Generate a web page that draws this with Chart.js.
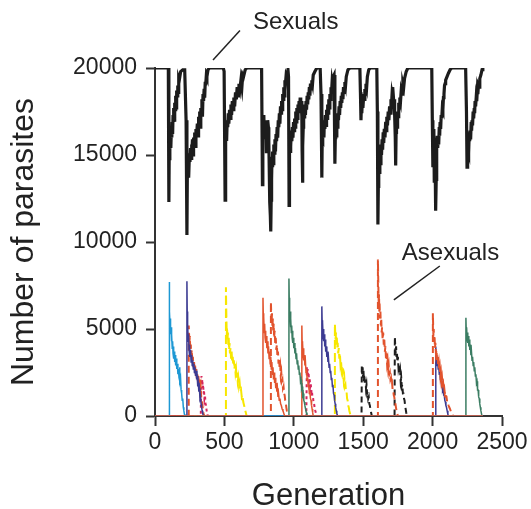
<!DOCTYPE html>
<html lang="en">
<head>
    <meta charset="UTF-8">
    <title>Sexual vs asexual parasites</title>
    <script src="https://cdn.jsdelivr.net/npm/chart.js"></script>
    <style>
        body {
            margin: 0;
            background-color: #ffffff;
        }
        canvas {
            display: block;
        }
    </style>
</head>
<body>
    <canvas id="chart" width="531" height="509"></canvas>

    <script>
        // tick values on each axis
        const xTicks = [0, 500, 1000, 1500, 2000, 2500];
        const yTicks = [0, 5000, 10000, 15000, 20000];

        // sexual population, [generation, count]
        const sexuals = [
            [0,20000],[96,20000],[100,12300],[103,15800],[106,14700],[108,16200],[110,15600],[113,16300],[115,15400],[118,16500],
            [121,16000],[124,16900],[127,16200],[130,17300],[133,16900],[136,17700],[139,17000],[142,18000],[146,17600],
            [149,18400],[152,17700],[156,18700],[160,18400],[164,19000],[167,18600],[171,19400],[175,19300],[185,19800],
            [200,19900],[214,19900],[224,17000],[230,10400],[233,13900],[236,14700],[238,14200],[241,15000],[244,13700],
            [248,15100],[252,14600],[256,15400],[260,14800],[263,15600],[266,15100],[270,15900],[274,15000],[278,16000],
            [282,15600],[286,16300],[290,15500],[295,16500],[300,16100],[305,16800],[310,16100],[314,17200],[318,16700],
            [322,17500],[326,16600],[330,17700],[334,17300],[338,18200],[342,17200],[346,18500],[350,18100],[354,18800],
            [358,18300],[362,19200],[365,19000],[370,19600],[374,19500],[382,19900],[392,20000],[492,20000],[498,19800],
            [505,12400],[508,16600],[510,16000],[513,16900],[516,15800],[520,17000],[524,16600],[528,17400],[532,16800],
            [537,17600],[542,17100],[547,17900],[552,17300],[557,18100],[562,17600],[568,18300],[574,17800],[580,18600],
            [586,18200],[592,18900],[598,18400],[605,19100],[612,18800],[619,19300],[626,18900],[632,19600],[638,19500],
            [650,19900],[662,20000],[768,20000],[774,13300],[777,17100],[780,16400],[784,17300],[788,16000],[791,17000],
            [795,16300],[799,16900],[803,15100],[807,16500],[810,15800],[814,17000],[817,16600],[820,15800],[822,14800],
            [825,13500],[828,12300],[831,11500],[834,10600],[837,12400],[840,13600],[843,14900],[846,14300],[849,15200],
            [852,14500],[856,15600],[860,15100],[864,15900],[868,15200],[872,16200],[876,15800],[880,16600],[884,16000],
            [888,17000],[892,16600],[896,17400],[900,16800],[904,17800],[908,17400],[912,18100],[916,17600],[920,18500],
            [924,18200],[928,18900],[932,18400],[936,19300],[940,19100],[945,19600],[950,19500],[958,19900],[962,19500],
            [966,12100],[968,15200],[970,15900],[973,15200],[976,16100],[979,15500],[982,16400],[986,15800],[990,16600],
            [994,16000],[998,16900],[1002,16400],[1006,17100],[1010,16600],[1014,17500],[1018,16900],[1022,17700],
            [1026,17100],[1030,17900],[1034,17400],[1038,18100],[1042,17500],[1046,18300],[1050,17800],[1054,18100],
            [1058,17200],[1060,15200],[1062,14200],[1064,13400],[1066,15500],[1068,16600],[1071,17200],[1074,17700],
            [1077,17100],[1080,17900],[1084,17300],[1088,18100],[1092,17600],[1096,18400],[1100,17900],[1104,18600],
            [1108,18200],[1112,18900],[1116,18400],[1120,19100],[1125,18800],[1130,19300],[1135,19100],[1140,19600],
            [1152,19800],[1166,20000],[1190,20000],[1196,18500],[1202,13700],[1205,16200],[1207,16900],[1210,16100],
            [1214,16700],[1217,16000],[1220,17000],[1224,16500],[1228,17300],[1232,16700],[1236,17600],[1240,17100],
            [1244,17900],[1248,17400],[1252,18200],[1256,17700],[1260,18500],[1264,18200],[1268,18900],[1272,18600],
            [1276,19200],[1280,19000],[1284,19500],[1290,19600],[1296,14500],[1299,16000],[1302,16600],[1306,16100],
            [1310,17100],[1314,16600],[1318,17400],[1322,17000],[1326,17800],[1330,17300],[1334,18100],[1338,17700],
            [1342,18400],[1346,18000],[1350,18600],[1354,18200],[1358,18900],[1363,18600],[1368,19200],[1373,19000],
            [1378,19500],[1390,19900],[1404,20000],[1476,20000],[1480,18600],[1484,17000],[1487,17900],[1490,17400],
            [1494,18200],[1498,17700],[1504,18500],[1508,18200],[1512,18800],[1516,18500],[1520,19100],[1525,18900],
            [1530,19500],[1540,19900],[1552,20000],[1598,20000],[1602,17500],[1606,11000],[1609,13200],[1612,14500],
            [1616,14000],[1620,15000],[1624,14500],[1628,15600],[1632,15000],[1636,15900],[1640,15300],[1644,16300],
            [1648,15700],[1652,16500],[1657,16000],[1662,16900],[1666,16400],[1670,17200],[1675,16700],[1680,17500],
            [1685,17000],[1690,17800],[1695,17400],[1700,18200],[1704,17900],[1708,18500],[1711,18300],[1714,18900],
            [1718,18300],[1722,17800],[1725,18200],[1728,17300],[1731,16000],[1734,14400],[1737,16300],[1740,16900],
            [1744,16600],[1748,17500],[1752,17200],[1756,18000],[1760,17700],[1764,18300],[1769,18100],[1774,18700],
            [1780,18500],[1786,19100],[1792,18900],[1798,19400],[1810,19800],[1822,20000],[1994,20000],[1998,17000],
            [2002,14300],[2005,16400],[2008,15600],[2010,16500],[2012,13500],[2014,15200],[2016,15900],[2018,14800],
            [2020,14000],[2022,13000],[2024,11800],[2026,13600],[2028,14800],[2031,15600],[2034,16100],[2037,15400],
            [2040,16000],[2044,15600],[2048,16600],[2051,16100],[2054,16900],[2058,16500],[2062,17300],[2066,17100],
            [2070,17700],[2074,17600],[2078,18300],[2082,18500],[2086,19000],[2090,19100],[2094,19300],[2104,19500],
            [2114,19700],[2126,19900],[2138,20000],[2238,20000],[2244,17500],[2248,14300],[2251,15400],[2254,15900],
            [2256,15200],[2258,15700],[2261,15100],[2264,16300],[2267,15800],[2270,16400],[2274,15900],[2278,16900],
            [2281,16400],[2284,17000],[2288,16700],[2292,17500],[2296,17100],[2300,17700],[2303,17400],[2306,18100],
            [2310,17800],[2314,18300],[2318,18100],[2322,18700],[2326,18500],[2330,19000],[2335,18900],[2340,19400],
            [2348,19600],[2356,19900],[2362,20000]
        ];

        // asexual clones, [generation, count]; each one is tracked over the whole run
        const clone778 = [[0,0],[778,0],[778,6800],[780,5900],[782,5200],[784,5700],[787,4800],[790,5300],[793,4500],
            [796,4900],[799,4200],[802,4600],[806,3900],[810,4300],[814,3600],[818,4000],[822,3300],[826,3700],[830,3000],
            [834,3400],[838,2700],[842,3100],[846,2400],[850,2800],[854,2100],[858,2500],[862,1900],[866,2200],[870,1600],
            [874,1900],[878,1400],[882,1600],[886,1100],[890,1300],[895,900],[900,1000],[905,700],[910,600],[916,400],
            [922,300],[928,150],[934,0],[2362,0]];
        const clone101 = [[0,0],[101,0],[101,7700],[103,6200],[105,5300],[107,6000],[109,5100],[111,5600],[113,4700],
            [116,5100],[118,4300],[121,4700],[124,3900],[127,4300],[130,3600],[133,4000],[136,3300],[139,3700],[142,3100],
            [145,3500],[149,2900],[153,3300],[157,2700],[161,3000],[165,2400],[169,2700],[173,2200],[177,2800],[180,2000],
            [184,2200],[188,1500],[192,1300],[196,900],[200,1000],[204,500],[208,300],[212,100],[216,0],[2362,0]];
        const clone230 = [[0,0],[230,0],[230,7750],[232,6000],[234,4800],[236,5300],[239,4300],[242,4700],[245,3800],
            [248,4100],[252,3400],[256,3800],[260,3100],[264,3500],[268,2900],[272,3200],[276,2700],[280,3000],[284,2500],
            [288,2800],[292,2300],[296,2600],[300,2100],[304,2300],[308,1700],[312,1900],[316,1400],[320,1600],[324,1000],
            [328,1100],[332,700],[336,500],[340,300],[344,150],[348,0],[2362,0]];
        const clone243 = [[0,0],[243,0],[243,5200],[245,4800],[248,4200],[251,4600],[254,3800],[258,4100],[261,3500],
            [265,3800],[269,3100],[273,3400],[277,2800],[281,3200],[285,2600],[289,2900],[293,2400],[297,2700],[301,2200],
            [305,2500],[309,2000],[313,2300],[317,1800],[321,2100],[325,1500],[329,1700],[333,1100],[337,900],[341,600],
            [345,400],[350,150],[355,0],[2362,0]];
        const clone332 = [[0,0],[330,0],[332,1900],[335,2300],[338,1800],[341,2100],[344,1600],[347,1800],[350,1300],
            [353,1500],[356,1000],[360,1200],[364,700],[368,600],[372,300],[376,200],[380,0],[2362,0]];
        const clone511 = [[0,0],[511,0],[511,7400],[513,6300],[515,5400],[517,4600],[519,5100],[522,4300],[525,4800],
            [528,4100],[531,4500],[534,3800],[537,4200],[540,3600],[544,3900],[548,3300],[552,3700],[556,3100],[560,3400],
            [564,2900],[568,3200],[572,2700],[576,3000],[580,2500],[584,2700],[588,2200],[592,2500],[596,2000],[600,2200],
            [605,1700],[610,1900],[615,1400],[620,1500],[625,1100],[630,1200],[636,800],[642,600],[648,400],[654,200],
            [660,0],[2362,0]];
        const clone835 = [[0,0],[835,0],[835,6550],[837,6000],[840,5400],[843,5900],[846,5100],[849,5600],[852,4800],
            [855,5300],[858,4500],[862,4900],[866,4200],[870,4500],[874,3800],[878,4100],[882,3400],[886,3700],[890,3000],
            [894,3300],[898,2700],[902,2900],[906,2300],[910,2500],[914,2000],[918,2100],[922,1600],[926,1700],[930,1300],
            [934,1200],[938,900],[942,800],[946,500],[950,300],[955,100],[960,0],[2362,0]];
        const clone965 = [[0,0],[965,0],[965,7900],[967,6800],[969,6000],[971,5400],[973,6000],[976,5100],[979,5600],
            [982,4800],[985,5200],[988,4500],[991,4900],[994,4200],[997,4500],[1000,3900],[1004,4200],[1008,3600],
            [1012,3900],[1016,3300],[1020,3600],[1024,3000],[1028,3200],[1032,2700],[1036,2900],[1040,2400],[1044,2500],
            [1048,2000],[1052,2100],[1056,1600],[1060,1700],[1064,1200],[1068,1300],[1072,900],[1076,800],[1080,600],
            [1085,400],[1090,200],[1095,50],[1098,0],[2362,0]];
        const clone1058 = [[0,0],[1058,0],[1058,5200],[1060,4300],[1062,3800],[1064,4200],[1067,3500],[1070,3900],
            [1073,3200],[1076,3500],[1080,2900],[1084,3100],[1088,2500],[1092,2700],[1096,2100],[1100,2200],[1104,1700],
            [1108,1800],[1112,1300],[1116,1400],[1120,1000],[1124,900],[1128,600],[1132,400],[1136,200],[1140,0],[2362,0]];
        const clone1094 = [[0,0],[1090,0],[1094,2800],[1097,2400],[1100,2700],[1103,2200],[1106,2500],[1110,2000],
            [1114,2200],[1118,1700],[1122,1900],[1126,1400],[1130,1500],[1134,1100],[1138,1100],[1142,800],[1146,700],
            [1150,500],[1155,300],[1160,150],[1166,0],[2362,0]];
        const clone1202 = [[0,0],[1202,0],[1202,6300],[1204,5500],[1206,4900],[1208,5400],[1211,4600],[1214,5000],
            [1217,4300],[1220,4700],[1223,4000],[1226,4400],[1230,3700],[1234,4000],[1238,3400],[1242,3700],[1246,3100],
            [1250,3300],[1254,2800],[1258,3000],[1262,2500],[1266,2600],[1270,2100],[1274,2200],[1278,1700],[1282,1800],
            [1286,1300],[1290,1200],[1294,900],[1298,700],[1302,500],[1306,300],[1310,150],[1316,0],[2362,0]];
        const clone1296 = [[0,0],[1296,0],[1296,5300],[1298,4900],[1301,4400],[1304,4800],[1307,4100],[1310,4500],
            [1313,3900],[1316,4200],[1320,3600],[1324,3900],[1328,3300],[1332,3600],[1336,3000],[1340,3200],[1344,2700],
            [1348,2900],[1352,2400],[1356,2500],[1360,2000],[1364,2200],[1368,1700],[1372,1800],[1376,1400],[1380,1400],
            [1384,1000],[1388,900],[1392,600],[1396,500],[1400,300],[1405,150],[1410,0],[2362,0]];
        const clone1490 = [[0,0],[1488,0],[1490,2900],[1493,2400],[1496,2800],[1499,2200],[1502,2600],[1505,2000],
            [1508,2400],[1512,1800],[1516,2100],[1520,1600],[1524,1800],[1528,1300],[1532,1400],[1536,1000],[1540,1100],
            [1544,700],[1548,600],[1552,400],[1557,200],[1562,0],[2362,0]];
        const clone1606 = [[0,0],[1606,0],[1606,9000],[1608,8000],[1610,7100],[1612,6400],[1614,7000],[1616,6000],
            [1618,6500],[1621,5600],[1624,6000],[1627,5200],[1630,5600],[1633,4800],[1636,5100],[1640,4400],[1644,4800],
            [1648,4100],[1652,4400],[1656,3700],[1660,4000],[1664,3300],[1668,3600],[1672,3000],[1676,3200],[1680,2700],
            [1684,2900],[1688,2400],[1692,2500],[1696,2100],[1700,2200],[1704,1800],[1708,1900],[1712,1500],[1716,1500],
            [1720,1200],[1724,1100],[1728,800],[1732,700],[1736,500],[1740,300],[1745,150],[1750,0],[2362,0]];
        const clone1728 = [[0,0],[1726,0],[1728,4550],[1731,4000],[1734,3600],[1737,4000],[1740,3400],[1743,3700],
            [1746,3100],[1750,3400],[1754,2800],[1758,3000],[1762,2400],[1766,2600],[1770,2000],[1774,2200],[1778,1700],
            [1782,1800],[1786,1300],[1790,1300],[1794,1000],[1798,900],[1802,600],[1806,400],[1810,200],[1816,0],[2362,0]];
        const clone2002 = [[0,0],[2002,0],[2002,5900],[2004,5200],[2006,4600],[2008,5000],[2011,4300],[2014,4600],
            [2017,3900],[2020,4200],[2024,3600],[2028,3800],[2032,3200],[2036,3400],[2040,2900],[2044,3100],[2048,2600],
            [2052,2800],[2056,2300],[2060,2500],[2064,2000],[2068,2200],[2072,1800],[2076,1900],[2080,1500],[2084,1600],
            [2088,1300],[2092,1400],[2096,1100],[2100,1100],[2105,800],[2110,800],[2115,600],[2120,500],[2126,400],
            [2132,250],[2140,100],[2148,0],[2362,0]];
        const clone2023 = [[0,0],[2023,0],[2023,4000],[2025,3500],[2028,3100],[2031,3500],[2034,2900],[2037,3200],
            [2040,2700],[2044,2900],[2048,2400],[2052,2600],[2056,2100],[2060,2300],[2064,1800],[2068,1900],[2072,1500],
            [2076,1600],[2080,1200],[2084,1200],[2088,900],[2092,800],[2096,600],[2100,500],[2105,300],[2110,100],
            [2114,0],[2362,0]];
        const clone2240 = [[0,0],[2240,0],[2240,5650],[2242,5000],[2244,4600],[2246,5100],[2249,4400],[2252,4800],
            [2255,4200],[2258,4600],[2261,4000],[2264,4400],[2268,3800],[2272,4100],[2276,3500],[2280,3700],[2284,3200],
            [2288,3400],[2292,2900],[2296,3100],[2300,2600],[2304,2800],[2308,2300],[2312,2400],[2316,1900],[2320,2000],
            [2324,1500],[2328,1500],[2332,1100],[2336,1000],[2340,700],[2344,500],[2348,300],[2353,100],[2358,0],[2362,0]];

        const RED = '#e2532d', NAVY = '#3c3b92', CYAN = '#1d98d4', GREEN = '#3b7d63',
              PINK = '#d6265c', YELLOW = '#f7e700', BLACK = '#1e1e1e';

        // first entry ends up drawn on top, so the solid red one owns the baseline
        const clones = [
            { data: clone778,  color: RED },
            { data: clone101,  color: CYAN },
            { data: clone230,  color: NAVY },
            { data: clone243,  color: RED,    dash: [7, 4] },
            { data: clone332,  color: PINK,   dash: [3, 3] },
            { data: clone511,  color: YELLOW, dash: [9, 4] },
            { data: clone835,  color: RED,    dash: [7, 4] },
            { data: clone965,  color: GREEN },
            { data: clone1058, color: RED },
            { data: clone1094, color: PINK,   dash: [3, 3] },
            { data: clone1202, color: NAVY },
            { data: clone1296, color: YELLOW, dash: [9, 4] },
            { data: clone1490, color: BLACK,  dash: [6, 4] },
            { data: clone1606, color: RED,    dash: [7, 4] },
            { data: clone1728, color: BLACK,  dash: [6, 4] },
            { data: clone2002, color: RED,    dash: [7, 4] },
            { data: clone2023, color: NAVY },
            { data: clone2240, color: GREEN }
        ];

        // callout labels with their pointer lines, in data units
        const callouts = [
            { text: 'Sexuals',  at: [706, 22650],  from: [612, 22150],  to: [418, 20460] },
            { text: 'Asexuals', at: [1778, 9370],  from: [2052, 8620],  to: [1721, 6670] }
        ];

        const toXY = pairs => pairs.map(p => ({ x: p[0], y: p[1] }));

        const datasets = [{
            label: 'Sexuals',
            data: toXY(sexuals),
            borderColor: '#1c1c1c',
            borderWidth: 3.2,
            pointRadius: 0,
            tension: 0
        }];
        clones.forEach((c, i) => {
            datasets.push({
                label: 'Asexual ' + (i + 1),
                data: toXY(c.data),
                borderColor: c.color,
                borderWidth: c.dash ? 2 : 1.5,
                borderDash: c.dash || [],
                pointRadius: 0,
                tension: 0
            });
        });

        const calloutPlugin = {
            id: 'callouts',
            afterDraw(chart) {
                const { ctx, scales: { x, y } } = chart;
                ctx.save();
                ctx.fillStyle = '#222';
                ctx.strokeStyle = '#222';
                ctx.lineWidth = 1.5;
                ctx.font = '24px "Liberation Sans", Arial, sans-serif';
                ctx.textAlign = 'left';
                ctx.textBaseline = 'middle';
                callouts.forEach(c => {
                    ctx.fillText(c.text, x.getPixelForValue(c.at[0]), y.getPixelForValue(c.at[1]));
                    ctx.beginPath();
                    ctx.moveTo(x.getPixelForValue(c.from[0]), y.getPixelForValue(c.from[1]));
                    ctx.lineTo(x.getPixelForValue(c.to[0]), y.getPixelForValue(c.to[1]));
                    ctx.stroke();
                });
                ctx.restore();
            }
        };

        const FONT = '"Liberation Sans", Arial, Helvetica, sans-serif';
        const AXIS = '#333333';

        new Chart(document.getElementById('chart').getContext('2d'), {
            type: 'line',
            data: { datasets },
            plugins: [calloutPlugin],
            options: {
                responsive: false,
                animation: false,
                layout: { padding: { left: 0, top: 68, right: 29, bottom: 0 } },
                plugins: {
                    legend: { display: false },
                    tooltip: { enabled: false }
                },
                scales: {
                    x: {
                        type: 'linear',
                        min: 0,
                        max: 2500,
                        afterBuildTicks: s => { s.ticks = xTicks.map(v => ({ value: v })); },
                        afterFit: s => { s.height = 93; },
                        grid: { drawOnChartArea: false, tickLength: 10, tickColor: AXIS, tickWidth: 2 },
                        border: { display: true, color: AXIS, width: 2 },
                        ticks: {
                            color: '#222',
                            font: { family: FONT, size: 23 },
                            padding: 3,
                            maxRotation: 0,
                            autoSkip: false,
                            callback: v => String(v)
                        },
                        title: {
                            display: true,
                            text: 'Generation',
                            color: '#222',
                            font: { family: FONT, size: 31, lineHeight: 0.8 },
                            padding: { top: 0, bottom: 0 }
                        }
                    },
                    y: {
                        min: 0,
                        max: 20000,
                        afterBuildTicks: s => { s.ticks = yTicks.map(v => ({ value: v })); },
                        afterFit: s => { s.width = 155; },
                        grid: { drawOnChartArea: false, tickLength: 9, tickColor: AXIS, tickWidth: 2 },
                        border: { display: true, color: AXIS, width: 2 },
                        ticks: {
                            color: '#222',
                            font: { family: FONT, size: 23 },
                            padding: 9,
                            autoSkip: false,
                            callback: v => String(v)
                        },
                        title: {
                            display: true,
                            text: 'Number of parasites',
                            color: '#222',
                            font: { family: FONT, size: 32, lineHeight: 0.8 },
                            padding: { top: 11, bottom: 0 }
                        }
                    }
                }
            }
        });
    </script>
</body>
</html>
